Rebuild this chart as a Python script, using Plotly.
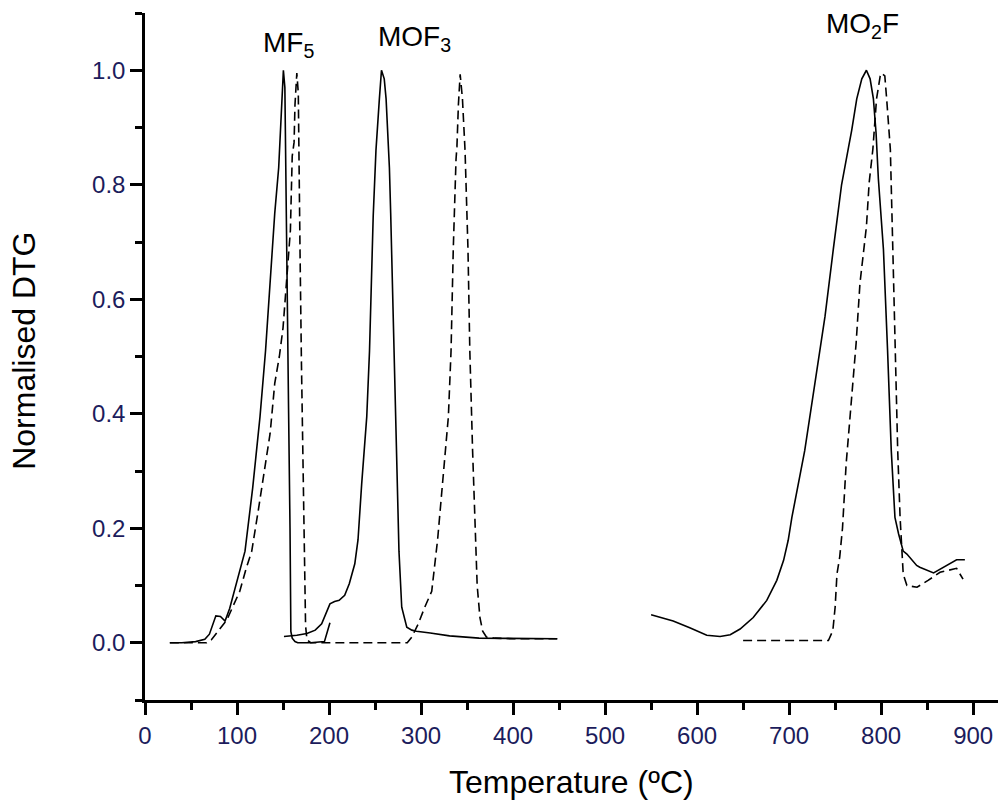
import plotly.graph_objects as go

# ---- data ----
solid_mf5_T = [27, 40, 55, 65, 70, 74, 77, 82, 87, 92, 100, 108.7, 117, 125, 131, 136, 141, 145.3,
               147, 148.6, 150.4, 152, 153, 154, 156, 157.6, 158.5, 160, 163, 166, 180, 195, 198, 201]
solid_mf5_y = [0, 0, 0.002, 0.006, 0.015, 0.035, 0.047, 0.046, 0.038, 0.06, 0.11, 0.16, 0.27, 0.395,
               0.51, 0.63, 0.75, 0.83, 0.89, 0.95, 1.0, 0.97, 0.8, 0.66, 0.41, 0.2, 0.02, 0.008,
               0.002, 0, 0, 0.002, 0.02, 0.035]

solid_mof3_T = [151, 165, 176, 185, 192, 197.5, 201, 206, 211, 217, 222, 228, 231.5, 235.5, 241, 244,
                246, 248, 251, 252.5, 254.7, 257, 260, 262, 263.8, 265.6, 267, 268, 272, 274, 276,
                279, 282, 284.5, 290, 295, 310, 331, 363, 400, 448]
solid_mof3_y = [0.011, 0.013, 0.016, 0.022, 0.033, 0.054, 0.068, 0.072, 0.074, 0.083, 0.103, 0.138,
                0.18, 0.278, 0.395, 0.51, 0.63, 0.745, 0.86, 0.89, 0.95, 1.0, 0.985, 0.95, 0.89,
                0.83, 0.75, 0.68, 0.45, 0.28, 0.16, 0.062, 0.04, 0.027, 0.022, 0.02, 0.017, 0.012,
                0.008, 0.007, 0.007]

solid_mo2f_T = [550, 574, 592, 610.5, 625, 636, 646.7, 661, 675.7, 686.6, 694, 699, 703, 717, 728,
                739, 748, 757, 764.5, 768, 773.5, 779, 784, 788, 791.6, 794.5, 797, 802.5, 807, 811,
                815, 819, 824, 828, 838.6, 842, 857, 871, 882, 891]
solid_mo2f_y = [0.049, 0.038, 0.026, 0.013, 0.011, 0.014, 0.024, 0.044, 0.074, 0.109, 0.144, 0.179,
                0.219, 0.336, 0.453, 0.57, 0.687, 0.8, 0.865, 0.895, 0.95, 0.985, 1.0, 0.985,
                0.95, 0.89, 0.81, 0.687, 0.51, 0.336, 0.219, 0.19, 0.16, 0.155, 0.135, 0.132,
                0.122, 0.135, 0.145, 0.145]

dashed_low_T = [27, 50, 67, 72, 78, 83, 89, 96, 103, 110, 116, 123, 130, 136, 141, 146, 150, 153,
                155.6, 158, 160, 162, 163, 165, 166.6, 167, 168.5, 170, 172, 173.5, 174.5, 176, 180,
                200, 250, 285, 290, 297, 304, 311.6, 318, 324, 329.7, 332.6, 335, 338, 339, 340.6,
                342.5, 345, 347.8, 351, 353, 356, 357.6, 359.8, 361, 364, 367, 371, 380, 400, 448]
dashed_low_y = [0, 0, 0, 0.005, 0.017, 0.028, 0.04, 0.065, 0.09, 0.13, 0.16, 0.23, 0.307, 0.366,
                0.453, 0.5, 0.55, 0.62, 0.68, 0.72, 0.85, 0.874, 0.94, 0.995, 0.96, 0.86, 0.68,
                0.49, 0.25, 0.12, 0.03, 0.005, 0, 0, 0, 0, 0.01, 0.033, 0.062, 0.09, 0.18, 0.29,
                0.395, 0.51, 0.687, 0.844, 0.867, 0.94, 0.993, 0.95, 0.86, 0.687, 0.51, 0.336,
                0.25, 0.16, 0.1, 0.044, 0.02, 0.01, 0.008, 0.007, 0.007]

dashed_mo2f_T = [650, 700, 742.7, 747.5, 750, 752, 755, 758, 762, 765, 772.8, 777, 784, 787, 791,
                 795, 799, 800.5, 804, 806, 809, 810, 812.7, 815, 818, 820.6, 822.5, 824, 828, 839,
                 851, 864, 882, 889]
dashed_mo2f_y = [0.004, 0.004, 0.004, 0.021, 0.062, 0.12, 0.15, 0.2, 0.313, 0.371, 0.523, 0.628,
                 0.727, 0.804, 0.862, 0.95, 0.99, 0.995, 0.99, 0.95, 0.89, 0.862, 0.687, 0.51,
                 0.336, 0.219, 0.16, 0.12, 0.1, 0.097, 0.109, 0.123, 0.13, 0.111]

x_ticks = [0, 100, 200, 300, 400, 500, 600, 700, 800, 900]
y_ticks = [0.0, 0.2, 0.4, 0.6, 0.8, 1.0]

labels = [("MF<sub>5</sub>", 126, 1.045),
          ("MOF<sub>3</sub>", 251, 1.055),
          ("MO<sub>2</sub>F", 738, 1.078)]

FONT = "Arial, 'Liberation Sans', sans-serif"
TICKCOL = "#1c1c5c"

fig = go.Figure()
solid = dict(color="black", width=1.6)
dashed = dict(color="black", width=1.6, dash="9px,5px")
for T, y in [(solid_mf5_T, solid_mf5_y), (solid_mof3_T, solid_mof3_y), (solid_mo2f_T, solid_mo2f_y)]:
    fig.add_trace(go.Scatter(x=T, y=y, mode="lines", line=solid, showlegend=False, hoverinfo="skip"))
for T, y in [(dashed_low_T, dashed_low_y), (dashed_mo2f_T, dashed_mo2f_y)]:
    fig.add_trace(go.Scatter(x=T, y=y, mode="lines", line=dashed, showlegend=False, hoverinfo="skip"))

for text, xv, yv in labels:
    fig.add_annotation(x=xv, y=yv, xref="x", yref="y", text=text, showarrow=False,
                       xanchor="left", yanchor="middle",
                       font=dict(family=FONT, size=28, color="black"))

fig.add_annotation(x=0.5, y=-0.119, xref="paper", yref="paper", text="Temperature (ºC)",
                   showarrow=False, xanchor="center", yanchor="middle",
                   font=dict(family=FONT, size=32, color="black"))
fig.add_annotation(x=-0.1413, y=0.509, xref="paper", yref="paper", text="Normalised DTG",
                   showarrow=False, xanchor="center", yanchor="middle", textangle=-90,
                   font=dict(family=FONT, size=32, color="black"))

fig.update_layout(
    width=998, height=801,
    margin=dict(l=145, r=0, t=13, b=101),
    paper_bgcolor="white", plot_bgcolor="white",
    xaxis=dict(range=[0, 927], tickvals=x_ticks, ticks="outside", ticklen=12, tickwidth=2.5,
               tickcolor="black", showline=True, linecolor="black", linewidth=2.5,
               showgrid=False, zeroline=False,
               tickfont=dict(family=FONT, size=24, color=TICKCOL),
               minor=dict(dtick=50, tick0=0, ticks="outside", ticklen=7, tickwidth=2.5,
                          tickcolor="black", showgrid=False)),
    yaxis=dict(range=[-0.1, 1.1], tickvals=y_ticks, tickformat=".1f", ticks="outside",
               ticklen=12, tickwidth=2.5, tickcolor="black", showline=True, linecolor="black",
               linewidth=2.5, showgrid=False, zeroline=False,
               tickfont=dict(family=FONT, size=24, color=TICKCOL),
               minor=dict(dtick=0.1, tick0=0, ticks="outside", ticklen=7, tickwidth=2.5,
                          tickcolor="black", showgrid=False)),
)

# remove the default page margin so the 998x801 figure fills the window exactly
fig.write_html("out.html", config={"displayModeBar": False},
               post_script="document.body.style.margin='0';document.body.style.overflow='hidden';")
